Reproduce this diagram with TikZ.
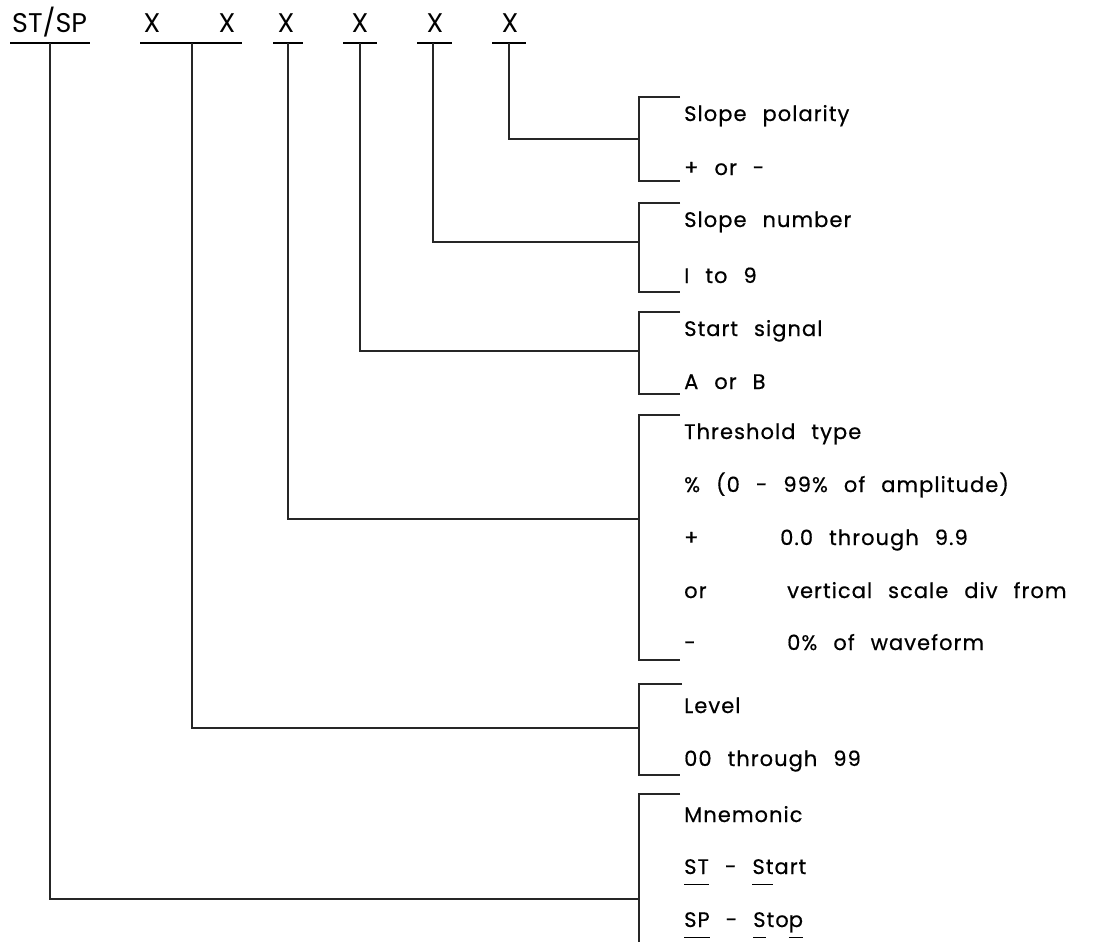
\documentclass[tikz,border=0pt]{standalone}
\usepackage{fontspec}
\setmainfont{Poppins}[LetterSpace=5,WordSpace=2.4,FakeBold=0.5]
\newfontfamily\hdrfont{Poppins}
\newlength\ulw
\newcommand\ulin[1]{\settowidth{\ulw}{#1}\rlap{\rule[-11pt]{\ulw}{1.4pt}}#1}
\begin{document}
\begin{tikzpicture}[x=1pt,y=-1pt,
  lbl/.style={anchor=base west,inner sep=0pt,font=\fontsize{21}{21}\selectfont},
  hdr/.style={anchor=base,inner sep=0pt,font=\hdrfont\fontsize{27}{27}\selectfont},
  conn/.style={line width=1.1pt,draw=black!85},
  brk/.style={line width=1.1pt,draw=black!85},
  ul/.style={line width=1.8pt,draw=black}]
\useasboundingbox (0,0) rectangle (1094,942);

% header
\node[hdr,anchor=base west] (st) at (12,33) {ST/SP};
\node[hdr] (x1) at (152,33) {X};
\node[hdr] (x2) at (227,33) {X};
\node[hdr] (x3) at (286,33) {X};
\node[hdr] (x4) at (360,33) {X};
\node[hdr] (x5) at (435,33) {X};
\node[hdr] (x6) at (510,33) {X};

% underline anchors
\coordinate (u0) at (50,43);
\coordinate (u1) at (192,43);
\coordinate (u2) at (288,43);
\coordinate (u3) at (360,43);
\coordinate (u4) at (433,43);
\coordinate (u5) at (509,43);
\draw[ul] (10,43) -- (90,43);
\draw[ul] (140,43) -- (242,43);
\draw[ul] (273,43) -- (303,43);
\draw[ul] (343,43) -- (377,43);
\draw[ul] (417,43) -- (452,43);
\draw[ul] (492,43) -- (526,43);

% bracket mid points
\coordinate (b1) at (639,139);
\coordinate (b2) at (639,242);
\coordinate (b3) at (639,351);
\coordinate (b4) at (639,519);
\coordinate (b5) at (639,728);
\coordinate (b6) at (639,899);

% brackets
\draw[brk] (680,97) -- (639,97) -- (639,181) -- (680,181);
\draw[brk] (680,203) -- (639,203) -- (639,292) -- (680,292);
\draw[brk] (680,312) -- (639,312) -- (639,394) -- (680,394);
\draw[brk] (680,415) -- (639,415) -- (639,660) -- (680,660);
\draw[brk] (682,684) -- (639,684) -- (639,775) -- (680,775);
\draw[brk] (680,794) -- (639,794) -- (639,942);

% connectors
\draw[conn] (u5) |- (b1);
\draw[conn] (u4) |- (b2);
\draw[conn] (u3) |- (b3);
\draw[conn] (u2) |- (b4);
\draw[conn] (u1) |- (b5);
\draw[conn] (u0) |- (b6);

% labels
\node[lbl] (p1) at (684,121) {Slope polarity};
\node[lbl] (p2) at (684,175) {+ or -};
\node[lbl] (n1) at (684,227) {Slope number};
\node[lbl] (n2) at (684,283) {I to 9};
\node[lbl] (s1) at (684,336) {Start signal};
\node[lbl] (s2) at (684,389) {A or B};
\node[lbl] (t1) at (684,439) {Threshold type};
\node[lbl] (t2) at (684,492) {\% (0 - 99\% of amplitude)};
\node[lbl] (t3) at (684,545) {\makebox[96pt][l]{+}0.0 through 9.9};
\node[lbl] (t4) at (684,598) {\makebox[103pt][l]{or}vertical scale div from};
\node[lbl] (t5) at (684,650) {\makebox[103pt][l]{-}0\% of waveform};
\node[lbl] (l1) at (684,713) {Level};
\node[lbl] (l2) at (684,766) {00 through 99};
\node[lbl] (m1) at (684,822) {Mnemonic};
\node[lbl] (m2) at (684,874) {\ulin{ST} - \ulin{St}art};
\node[lbl] (m3) at (684,927) {\ulin{SP} - \ulin{S}to\ulin{p}};
\end{tikzpicture}
\end{document}
